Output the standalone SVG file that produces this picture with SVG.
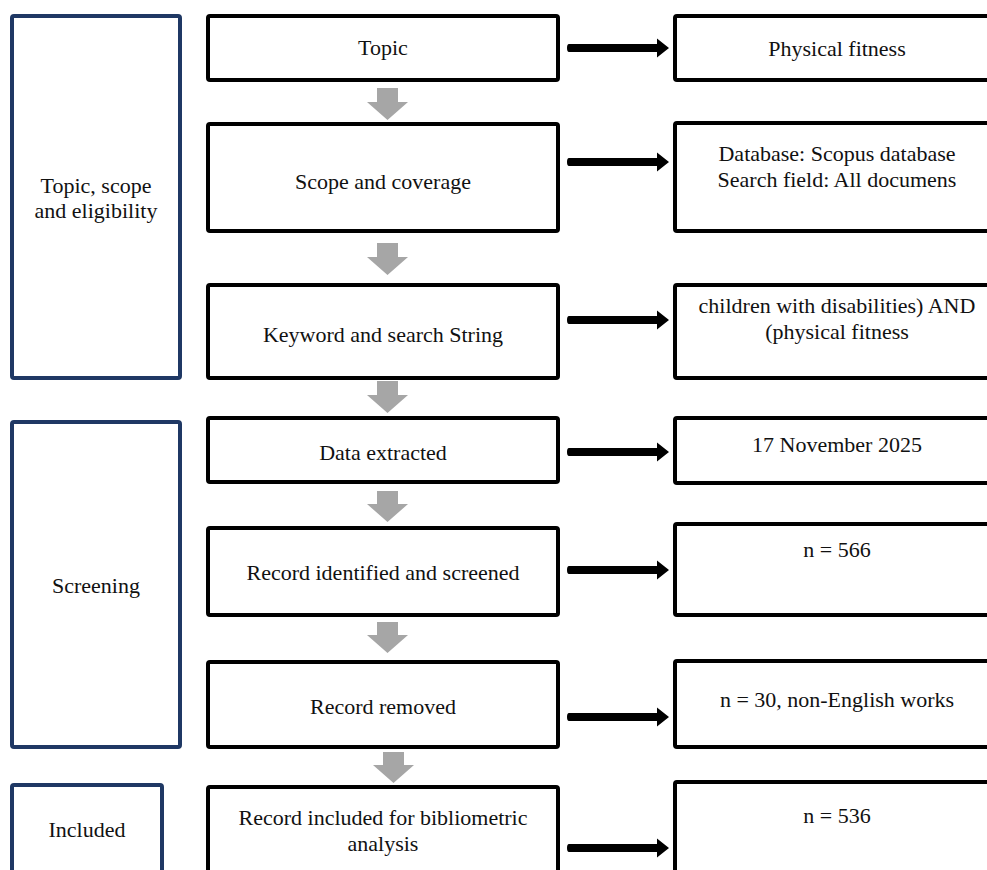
<svg xmlns="http://www.w3.org/2000/svg" width="987" height="870" viewBox="0 0 987 870">
<defs>
<style>
.stage{fill:#fff;stroke:#1f3864;stroke-width:4}
.box{fill:#fff;stroke:#000;stroke-width:4}
.t{font-family:"Liberation Serif","Times New Roman",serif;font-size:22px;fill:#111;text-anchor:middle}
.down{fill:#a6a6a6}
.right{fill:#000}
</style>
</defs>
<rect width="987" height="870" fill="#fff"/>
<g id="stage-topic">
<rect class="stage" x="12" y="16" width="168" height="362" rx="2"/>
<text class="t" x="96" y="193">Topic, scope</text>
<text class="t" x="96" y="218">and eligibility</text>
</g>
<g id="stage-screening">
<rect class="stage" x="12" y="422" width="168" height="325" rx="2"/>
<text class="t" x="96" y="593">Screening</text>
</g>
<g id="stage-included">
<rect class="stage" x="12" y="785" width="150" height="100" rx="2"/>
<text class="t" x="87" y="837">Included</text>
</g>
<g id="n-topic">
<rect class="box" x="208" y="16" width="350" height="64" rx="2"/>
<text class="t" x="383" y="55">Topic</text>
</g>
<g id="n-scope">
<rect class="box" x="208" y="124" width="350" height="107" rx="2"/>
<text class="t" x="383" y="189">Scope and coverage</text>
</g>
<g id="n-keyword">
<rect class="box" x="208" y="285" width="350" height="93" rx="2"/>
<text class="t" x="383" y="342">Keyword and search String</text>
</g>
<g id="n-data">
<rect class="box" x="208" y="418" width="350" height="64" rx="2"/>
<text class="t" x="383" y="460">Data extracted</text>
</g>
<g id="n-identified">
<rect class="box" x="208" y="528" width="350" height="87" rx="2"/>
<text class="t" x="383" y="580">Record identified and screened</text>
</g>
<g id="n-removed">
<rect class="box" x="208" y="662" width="350" height="85" rx="2"/>
<text class="t" x="383" y="714">Record removed</text>
</g>
<g id="n-included">
<rect class="box" x="208" y="787" width="350" height="100" rx="2"/>
<text class="t" x="383" y="825">Record included for bibliometric</text>
<text class="t" x="383" y="851">analysis</text>
</g>
<g id="r-topic">
<rect class="box" x="675" y="16" width="330" height="64" rx="2"/>
<text class="t" x="837" y="56">Physical fitness</text>
</g>
<g id="r-scope">
<rect class="box" x="675" y="123" width="330" height="108" rx="2"/>
<text class="t" x="837" y="161">Database: Scopus database</text>
<text class="t" x="837" y="187">Search field: All documens</text>
</g>
<g id="r-keyword">
<rect class="box" x="675" y="285" width="330" height="93" rx="2"/>
<text class="t" x="837" y="313">children with disabilities) AND</text>
<text class="t" x="837" y="339">(physical fitness</text>
</g>
<g id="r-data">
<rect class="box" x="675" y="418" width="330" height="65" rx="2"/>
<text class="t" x="837" y="452">17 November 2025</text>
</g>
<g id="r-identified">
<rect class="box" x="675" y="524" width="330" height="91" rx="2"/>
<text class="t" x="837" y="557">n = 566</text>
</g>
<g id="r-removed">
<rect class="box" x="675" y="661" width="330" height="86" rx="2"/>
<text class="t" x="837" y="707">n = 30, non-English works</text>
</g>
<g id="r-included">
<rect class="box" x="675" y="782" width="330" height="100" rx="2"/>
<text class="t" x="837" y="823">n = 536</text>
</g>
<g id="connectors">
<path class="down" d="M377,88H398V102H408L387.5,120L367,102H377Z"/>
<path class="down" d="M377,243H398V257H408L387.5,275L367,257H377Z"/>
<path class="down" d="M377,381H398V395H408L387.5,413L367,395H377Z"/>
<path class="down" d="M377,491H398V504H408L387.5,522L367,504H377Z"/>
<path class="down" d="M377,622H398V635H408L387.5,653L367,635H377Z"/>
<path class="down" d="M383,752H404V765H414L393.5,783L373,765H383Z"/>
<path class="right" d="M569,44H657V38.5L669,48L657,57.5V52H569Q567,52 567,48Q567,44 569,44Z"/>
<path class="right" d="M569,158H657V152.5L669,162L657,171.5V166H569Q567,166 567,162Q567,158 569,158Z"/>
<path class="right" d="M569,316H657V310.5L669,320L657,329.5V324H569Q567,324 567,320Q567,316 569,316Z"/>
<path class="right" d="M569,448H657V442.5L669,452L657,461.5V456H569Q567,456 567,452Q567,448 569,448Z"/>
<path class="right" d="M569,566H657V560.5L669,570L657,579.5V574H569Q567,574 567,570Q567,566 569,566Z"/>
<path class="right" d="M569,713H657V707.5L669,717L657,726.5V721H569Q567,721 567,717Q567,713 569,713Z"/>
<path class="right" d="M569,844H657V838.5L669,848L657,857.5V852H569Q567,852 567,848Q567,844 569,844Z"/>
</g>
</svg>
